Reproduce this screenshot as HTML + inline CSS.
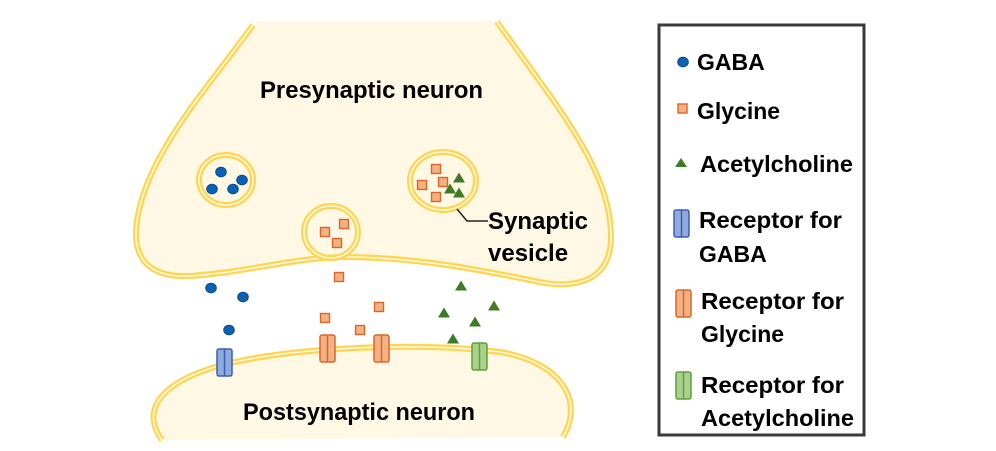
<!DOCTYPE html>
<html><head><style>
body{margin:0;background:#fff;width:996px;height:446px;overflow:hidden}
svg text{font-family:"Liberation Sans",sans-serif;font-weight:bold;fill:#000}
</style></head><body>
<svg width="996" height="446" viewBox="0 0 996 446" xmlns="http://www.w3.org/2000/svg">
<defs>
<g id="dot"><ellipse rx="5.3" ry="4.8" fill="#0b62b5" stroke="#0a4d8c" stroke-width="1"/></g>
<g id="sq"><rect x="-4.5" y="-4.5" width="9" height="9" fill="#f4b183" stroke="#d9662a" stroke-width="1.4"/></g>
<g id="tri"><polygon points="0,-5.5 6,4.5 -6,4.5" fill="#3f7a24"/></g>
<g id="rb"><rect x="0" y="0" width="15" height="27" rx="2" fill="#8faadc" stroke="#3a5fb0" stroke-width="1.5"/><line x1="7.5" y1="0" x2="7.5" y2="27" stroke="#3a5fb0" stroke-width="1.5"/></g>
<g id="ro"><rect x="0" y="0" width="15" height="27" rx="2" fill="#f4b183" stroke="#d9662a" stroke-width="1.5"/><line x1="7.5" y1="0" x2="7.5" y2="27" stroke="#d9662a" stroke-width="1.5"/></g>
<g id="rg"><rect x="0" y="0" width="15" height="27" rx="2" fill="#a9d18e" stroke="#5fa03a" stroke-width="1.5"/><line x1="7.5" y1="0" x2="7.5" y2="27" stroke="#5fa03a" stroke-width="1.5"/></g>
</defs>
<!-- presynaptic -->
<path d="M253,25 C210,85 150,150 138,215 C130,255 145,278 190,276 C250,272 300,256 350,257 C420,258 480,270 530,280 C570,290 612,285 611,235 C610,170 560,110 497,22" fill="#fff8e5" stroke="#ffd54f" stroke-width="6"/>
<path d="M253,25 C210,85 150,150 138,215 C130,255 145,278 190,276 C250,272 300,256 350,257 C420,258 480,270 530,280 C570,290 612,285 611,235 C610,170 560,110 497,22" fill="none" stroke="#fff8e5" stroke-width="1.6"/>
<rect x="256" y="21" width="238" height="6" fill="#fff8e5"/>
<!-- postsynaptic -->
<path d="M162,440 C140,410 160,380 230,363 C300,347 420,342 500,352 C560,362 585,400 563,437 Z" fill="#fff8e5" stroke="none"/>
<path d="M162,440 C140,410 160,380 230,363 C300,347 420,342 500,352 C560,362 585,400 563,437" fill="none" stroke="#ffd54f" stroke-width="6"/>
<path d="M162,440 C140,410 160,380 230,363 C300,347 420,342 500,352 C560,362 585,400 563,437" fill="none" stroke="#fff8e5" stroke-width="1.6"/>
<!-- vesicles -->
<g fill="none">
<ellipse cx="226" cy="180" rx="27" ry="25" stroke="#ffd54f" stroke-width="6"/><ellipse cx="226" cy="180" rx="27" ry="25" stroke="#fff8e5" stroke-width="1.6"/>
<ellipse cx="331" cy="232" rx="27" ry="26" stroke="#ffd54f" stroke-width="6"/><ellipse cx="331" cy="232" rx="27" ry="26" stroke="#fff8e5" stroke-width="1.6"/>
<ellipse cx="443" cy="181" rx="33" ry="29" stroke="#ffd54f" stroke-width="6"/><ellipse cx="443" cy="181" rx="33" ry="29" stroke="#fff8e5" stroke-width="1.6"/>
</g>
<use href="#dot" x="221" y="172"/><use href="#dot" x="242" y="180"/><use href="#dot" x="212" y="189"/><use href="#dot" x="233" y="189"/>
<use href="#sq" x="436" y="169"/><use href="#sq" x="443" y="182"/><use href="#sq" x="422" y="185"/><use href="#sq" x="436" y="197"/>
<use href="#tri" x="459" y="178"/><use href="#tri" x="450" y="189"/><use href="#tri" x="459" y="193"/>
<use href="#sq" x="344" y="224"/><use href="#sq" x="325" y="232"/><use href="#sq" x="337" y="243"/>
<!-- cleft -->
<use href="#dot" x="211" y="288"/><use href="#dot" x="243" y="297"/><use href="#dot" x="229" y="330"/>
<use href="#sq" x="339" y="277"/><use href="#sq" x="379" y="307"/><use href="#sq" x="325" y="318"/><use href="#sq" x="360" y="330"/>
<use href="#tri" x="461" y="286"/><use href="#tri" x="444" y="313"/><use href="#tri" x="494" y="306"/><use href="#tri" x="475" y="322"/><use href="#tri" x="453" y="339"/>
<use href="#rb" x="217" y="349"/><use href="#ro" x="320" y="335"/><use href="#ro" x="374" y="335"/><use href="#rg" x="472" y="343"/>
<polyline points="457,209 467,221 488,221" fill="none" stroke="#222" stroke-width="1.5"/>
<text x="260" y="98" font-size="24" textLength="223" lengthAdjust="spacingAndGlyphs">Presynaptic neuron</text>
<text x="243" y="420" font-size="24" textLength="232" lengthAdjust="spacingAndGlyphs">Postsynaptic neuron</text>
<text x="488" y="229" font-size="24">Synaptic</text>
<text x="488" y="261" font-size="24">vesicle</text>
<!-- legend -->
<rect x="659" y="25" width="205" height="410" fill="#fff" stroke="#3a3a3a" stroke-width="3"/>
<use href="#dot" x="683" y="62"/>
<rect x="678" y="104" width="9" height="9" fill="#f4b183" stroke="#d9662a" stroke-width="1.4"/>
<polygon points="681,158 687,167 675,167" fill="#3f7a24"/>
<use href="#rb" x="674" y="210"/><use href="#ro" x="676" y="290"/><use href="#rg" x="676" y="372"/>
<g font-size="23">
<text x="697" y="70">GABA</text>
<text x="697" y="119">Glycine</text>
<text x="700" y="172" textLength="153" lengthAdjust="spacingAndGlyphs">Acetylcholine</text>
<text x="699" y="228" textLength="143" lengthAdjust="spacingAndGlyphs">Receptor for</text>
<text x="699" y="262">GABA</text>
<text x="701" y="309" textLength="143" lengthAdjust="spacingAndGlyphs">Receptor for</text>
<text x="701" y="342">Glycine</text>
<text x="701" y="393" textLength="143" lengthAdjust="spacingAndGlyphs">Receptor for</text>
<text x="701" y="426" textLength="153" lengthAdjust="spacingAndGlyphs">Acetylcholine</text>
</g>
</svg>
</body></html>
